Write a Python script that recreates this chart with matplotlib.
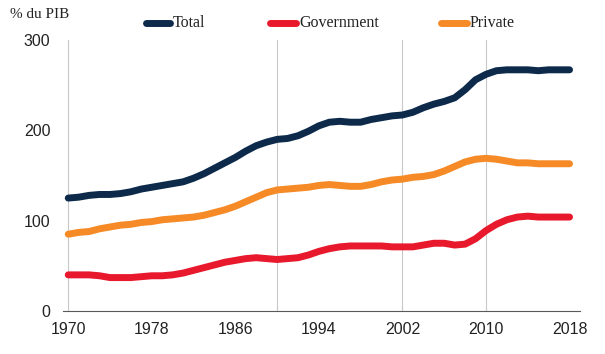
import matplotlib
matplotlib.use("Agg")
import matplotlib.pyplot as plt
from matplotlib.lines import Line2D

years = list(range(1970, 2019))
total = [125, 126, 128, 129, 129, 130, 132, 135, 137, 139, 141, 143, 147, 152, 158, 164,
         170, 177, 183, 187, 190, 191, 194, 199, 205, 209, 210, 209, 209, 212, 214, 216,
         217, 220, 225, 229, 232, 236, 245, 256, 262, 266, 267, 267, 267, 266, 267, 267, 267]
government = [40, 40, 40, 39, 37, 37, 37, 38, 39, 39, 40, 42, 45, 48, 51, 54,
              56, 58, 59, 58, 57, 58, 59, 62, 66, 69, 71, 72, 72, 72, 72, 71,
              71, 71, 73, 75, 75, 73, 74, 80, 89, 96, 101, 104, 105, 104, 104, 104, 104]
private = [85, 87, 88, 91, 93, 95, 96, 98, 99, 101, 102, 103, 104, 106, 109, 112,
           116, 121, 126, 131, 134, 135, 136, 137, 139, 140, 139, 138, 138, 140, 143, 145,
           146, 148, 149, 151, 155, 160, 165, 168, 169, 168, 166, 164, 164, 163, 163, 163, 163]
series_names = ["Total", "Government", "Private"]
xticks = [1970, 1978, 1986, 1994, 2002, 2010, 2018]
yticks = [0, 100, 200, 300]
vgrid = [1970, 1990, 2002, 2010]

colors = ["#0D2A4B", "#E8192C", "#F58A27"]

W, H = 605, 354
fig = plt.figure(figsize=(W/100, H/100), dpi=100)
ax = fig.add_axes([63/W, 1-311/H, (580-63)/W, (311-40)/H])

for yv, name, c in zip([total, government, private], series_names, colors):
    ax.plot(years, yv, color=c, lw=5, solid_capstyle="round", label=name)

for g in vgrid:
    ax.axvline(g, color="#C8C8C8", lw=0.8, zorder=0)

ax.set_xlim(1969.5, 2019)
ax.set_ylim(0, 300)
ax.set_xticks(xticks)
ax.set_yticks(yticks)
for s in ["top", "right", "left"]:
    ax.spines[s].set_visible(False)
ax.spines["bottom"].set_color("#595959")
ax.tick_params(axis="both", length=0, labelsize=11.5, labelcolor="#222222",
               labelfontfamily="Liberation Sans")
ax.tick_params(axis="y", pad=9)
ax.tick_params(axis="x", pad=8)

fig.text(10/W, 1-15/H, "% du PIB", family="Liberation Serif", fontsize=11,
         va="center", ha="left", color="#222222")

# legend drawn manually at the top
leg_items = [(146, 170, 173), (270, 296, 299), (441, 467, 470)]
ly = 1 - 23/H
for (x0, x1, xt), name, c in zip(leg_items, series_names, colors):
    fig.add_artist(Line2D([x0/W, x1/W], [ly, ly], color=c, lw=5,
                          solid_capstyle="round", transform=fig.transFigure))
    fig.text(xt/W, ly, name, family="Liberation Serif", fontsize=11.5,
             va="center", ha="left", color="#222222")

fig.savefig("out.png", dpi=100)
